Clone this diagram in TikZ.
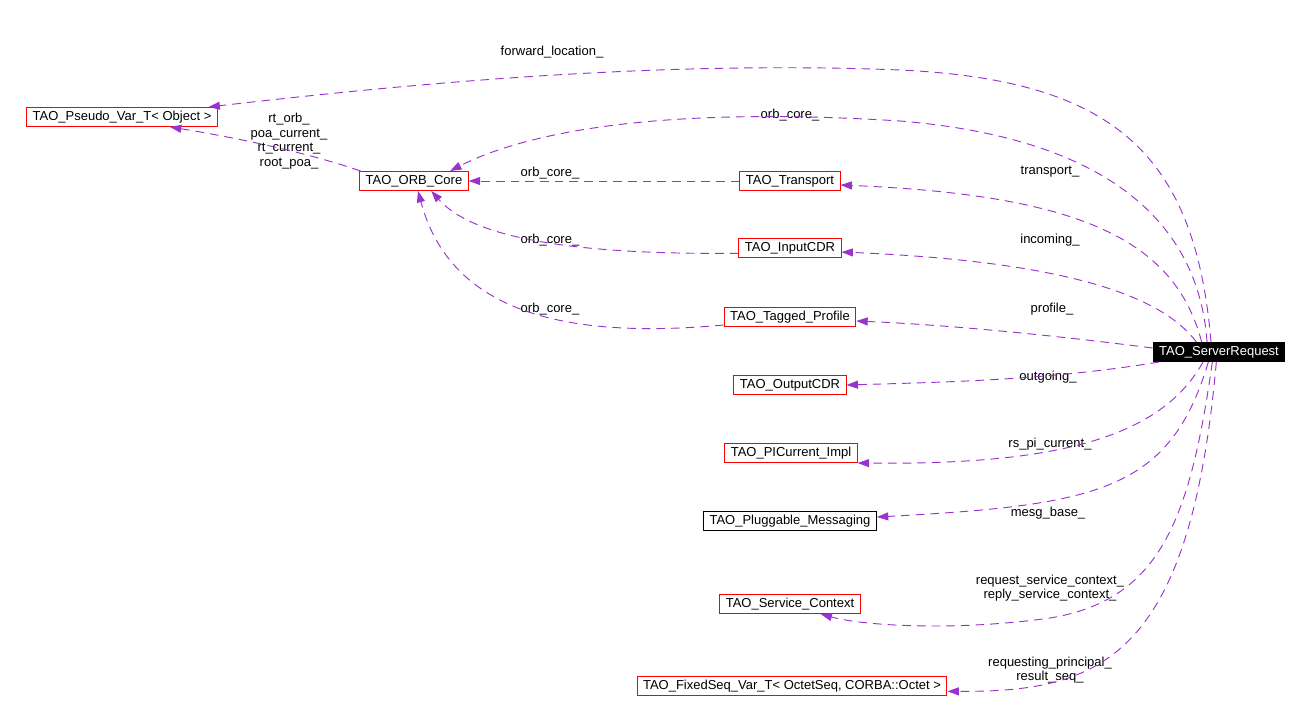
\documentclass[tikz,border=0pt]{standalone}
\usepackage{fontspec}
\setmainfont{Liberation Sans}
\usetikzlibrary{arrows.meta}
\definecolor{usecol}{RGB}{154,50,205}
\begin{document}
\begin{tikzpicture}[x=0.75pt,y=-0.75pt,
  every node/.style={font=\fontsize{9.75}{11}\selectfont},
  cls/.style={draw=red,line width=0.75pt,inner xsep=4.5pt,inner ysep=0pt,minimum height=14.25pt},
  plain/.style={cls,draw=black},
  main/.style={cls,draw=black,fill=black,text=white},
  lab/.style={align=center,inner sep=0pt},
  use/.style={usecol,line width=0.7pt,dash pattern=on 6.5pt off 4.5pt,-{Triangle[length=8.5pt,width=6pt]}}]

\useasboundingbox (0,0) rectangle (1310,713);

\node [cls] (pv) at (122,117) {TAO\_Pseudo\_Var\_T< Object >};
\node [cls] (orb) at (414,181) {TAO\_ORB\_Core};
\node [cls] (tr) at (790,181) {TAO\_Transport};
\node [cls] (in) at (790,248) {TAO\_InputCDR};
\node [cls] (tp) at (790,317) {TAO\_Tagged\_Profile};
\node [cls] (out) at (790,385) {TAO\_OutputCDR};
\node [cls] (pic) at (791,453) {TAO\_PICurrent\_Impl};
\node [plain] (pm) at (790,521) {TAO\_Pluggable\_Messaging};
\node [cls] (sc) at (790,604) {TAO\_Service\_Context};
\node [cls] (fs) at (792,686) {TAO\_FixedSeq\_Var\_T< OctetSeq, CORBA::Octet >};
\node [main] (sr) at (1219,352) {TAO\_ServerRequest};

\node [lab] (l1) at (552,52) {forward\_location\_};
\node [lab] (l2) at (790,115) {orb\_core\_};
\node [lab] (l3) at (1050,172) {transport\_};
\node [lab] (l4) at (1050,240) {incoming\_};
\node [lab] (l5) at (1052,309) {profile\_};
\node [lab] (l6) at (1048,377) {outgoing\_};
\node [lab] (l7) at (1050,444) {rs\_pi\_current\_};
\node [lab] (l8) at (1048,513) {mesg\_base\_};
\node [lab] (l9) at (1050,588) {request\_service\_context\_\\reply\_service\_context\_};
\node [lab] (l10) at (1050,670) {requesting\_principal\_\\result\_seq\_};
\node [lab] (l11) at (289,141) {rt\_orb\_\\poa\_current\_\\rt\_current\_\\root\_poa\_};
\node [lab] (l12) at (550,173) {orb\_core\_};
\node [lab] (l13) at (550,240) {orb\_core\_};
\node [lab] (l14) at (550,309) {orb\_core\_};

\draw [use] ([xshift=-6pt]sr.north) .. controls (1195,150) and (1110,80) .. (900,70) .. controls (650,60) and (400,85) .. ([xshift=-7pt]pv.north east);
\draw [use] ([xshift=-9pt]sr.north) .. controls (1200,240) and (1130,140) .. (900,121) .. controls (650,105) and (520,135) .. ([xshift=-14pt]orb.north east);
\draw [use] ([xshift=-13pt]sr.north) .. controls (1175,240) and (1080,195) .. ([yshift=-3pt]tr.east);
\draw [use] ([xshift=-17pt]sr.north) .. controls (1165,300) and (1080,262) .. ([yshift=-3pt]in.east);
\draw [use] ([yshift=3pt]sr.west) .. controls (1050,335) and (950,325) .. ([yshift=-3pt]tp.east);
\draw [use] ([xshift=-45pt]sr.south) .. controls (1050,380) and (950,382) .. (out.east);
\draw [use] ([xshift=-12pt]sr.south) .. controls (1160,440) and (1050,465) .. (pic.south east);
\draw [use] ([xshift=-8pt]sr.south) .. controls (1170,490) and (1100,505) .. ([yshift=3pt]pm.east);
\draw [use] ([xshift=-5pt]sr.south) .. controls (1190,520) and (1160,600) .. (1050,618) .. controls (950,632) and (860,625) .. ([xshift=23pt]sc.south);
\draw [use] ([xshift=-2pt]sr.south) .. controls (1190,660) and (1100,692) .. ([yshift=-4pt]fs.east);

\draw [use] ([xshift=1pt]orb.north west) .. controls (300,150) and (220,135) .. ([xshift=36pt]pv.south);
\draw [use] (tr.west) -- (orb.east);
\draw [use] ([yshift=-4pt]in.west) .. controls (560,255) and (470,235) .. ([xshift=13pt]orb.south);
\draw [use] ([yshift=-6pt]tp.west) .. controls (560,340) and (450,310) .. ([xshift=3pt]orb.south);

\end{tikzpicture}
\end{document}
